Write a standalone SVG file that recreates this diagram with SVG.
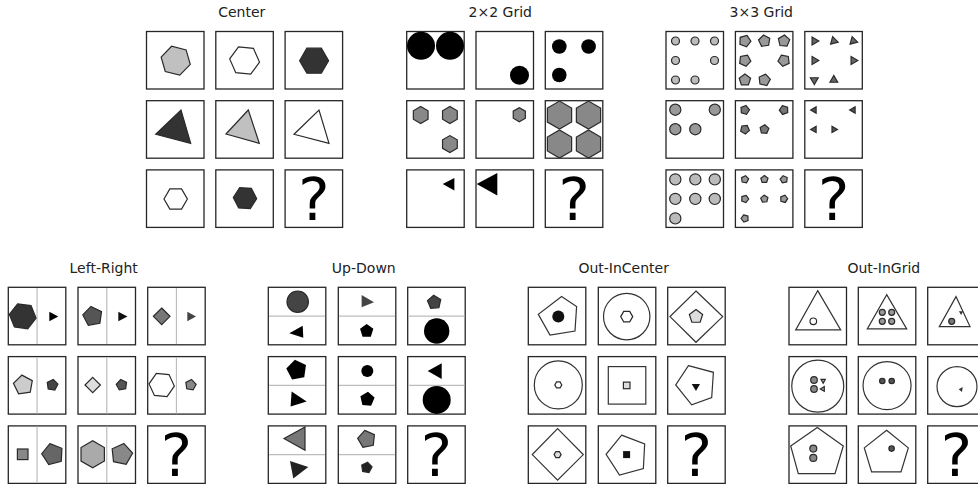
<svg xmlns="http://www.w3.org/2000/svg" xmlns:xlink="http://www.w3.org/1999/xlink" width="978" height="484" viewBox="0 0 978 484">
<style>
.box{fill:#fff;stroke:#262626;stroke-width:1.3}
.s{stroke:#2a2a2a;stroke-width:1.2}
.o{fill:none;stroke:#333;stroke-width:1.2}
.dv{stroke:#bdbdbd;stroke-width:1.2}
.q{font-family:"DejaVu Sans",sans-serif;font-size:59px;text-anchor:middle;fill:#000}
.t{font-family:"DejaVu Sans",sans-serif;font-size:14px;text-anchor:middle;fill:#222}
</style>
<defs>
<path id="hx" vector-effect="non-scaling-stroke" d="M1,0 L0.5,0.866 L-0.5,0.866 L-1,0 L-0.5,-0.866 L0.5,-0.866Z"/>
<path id="pt" vector-effect="non-scaling-stroke" d="M0,-1 L0.951,-0.309 L0.588,0.809 L-0.588,0.809 L-0.951,-0.309Z"/>
<path id="tr" vector-effect="non-scaling-stroke" d="M1,0 L-0.5,0.866 L-0.5,-0.866Z"/>
<rect id="bx" class="box" width="57.5" height="57.5"/>
</defs>
<rect width="978" height="484" fill="#fff"/>

<g id="titles">
<text class="t" x="241.7" y="17.3">Center</text>
<text class="t" x="500.3" y="17.3">2×2 Grid</text>
<text class="t" x="761.3" y="17.3">3×3 Grid</text>
<text class="t" x="103.7" y="273.3">Left-Right</text>
<text class="t" x="363.8" y="273.3">Up-Down</text>
<text class="t" x="623.7" y="273.3">Out-InCenter</text>
<text class="t" x="883.8" y="273.3">Out-InGrid</text>
</g>

<!-- Center -->
<g id="center">
<g id="center-r0c0" transform="translate(146.5,31.5)"><use href="#bx"/><use href="#hx" class="s" fill="#c0c0c0" transform="translate(29.2,29.2) rotate(14) scale(15)"/></g>
<g id="center-r0c1" transform="translate(215.8,31.5)"><use href="#bx"/><use href="#hx" class="s" fill="#fff" transform="translate(28.8,29) rotate(6) scale(15)"/></g>
<g id="center-r0c2" transform="translate(285.1,31.5)"><use href="#bx"/><use href="#hx" class="s" fill="#333" transform="translate(29,29.2) scale(14.5)"/></g>
<g id="center-r1c0" transform="translate(146.5,100.7)"><use href="#bx"/><polygon class="s" fill="#333" points="9.2,33.6 34.5,9.3 44.2,42.6"/></g>
<g id="center-r1c1" transform="translate(215.8,100.7)"><use href="#bx"/><polygon class="s" fill="#c0c0c0" points="10.2,33.3 32.5,9.3 43.5,42.6"/></g>
<g id="center-r1c2" transform="translate(285.1,100.7)"><use href="#bx"/><polygon class="s" fill="#fff" points="8.9,33.6 33.9,9.3 43.9,42.6"/></g>
<g id="center-r2c0" transform="translate(146.5,169.9)"><use href="#bx"/><use href="#hx" class="s" fill="#fff" transform="translate(29.2,29.1) scale(11.7)"/></g>
<g id="center-r2c1" transform="translate(215.8,169.9)"><use href="#bx"/><use href="#hx" class="s" fill="#333" transform="translate(29.2,28.2) rotate(3) scale(11.7)"/></g>
<g id="center-r2c2" transform="translate(285.1,169.9)"><use href="#bx"/><text class="q" x="28.75" y="50">?</text></g>
</g>

<!-- 2x2 Grid -->
<g id="grid2">
<g id="grid2-r0c0" transform="translate(406.7,31.5)"><use href="#bx"/><circle cx="14.3" cy="14.3" r="14" fill="#000"/><circle cx="43.3" cy="14.3" r="14" fill="#000"/></g>
<g id="grid2-r0c1" transform="translate(476,31.5)"><use href="#bx"/><circle cx="43.5" cy="43.8" r="9.5" fill="#000"/></g>
<g id="grid2-r0c2" transform="translate(545.3,31.5)"><use href="#bx"/><circle cx="14" cy="15" r="7.3" fill="#000"/><circle cx="43.3" cy="15" r="7.3" fill="#000"/><circle cx="14" cy="43.5" r="7.3" fill="#000"/></g>
<g id="grid2-r1c0" transform="translate(406.7,100.7)"><use href="#bx"/><use href="#hx" class="s" fill="#888" transform="translate(14,14.3) rotate(30) scale(8.5)"/><use href="#hx" class="s" fill="#888" transform="translate(43.2,14.3) rotate(30) scale(8.5)"/><use href="#hx" class="s" fill="#888" transform="translate(43.2,43.4) rotate(30) scale(8.5)"/></g>
<g id="grid2-r1c1" transform="translate(476,100.7)"><use href="#bx"/><use href="#hx" class="s" fill="#888" transform="translate(43.3,14) rotate(30) scale(7)"/></g>
<g id="grid2-r1c2" transform="translate(545.3,100.7)"><use href="#bx"/><use href="#hx" class="s" fill="#888" transform="translate(14.2,14.4) rotate(30) scale(14)"/><use href="#hx" class="s" fill="#888" transform="translate(43.2,14.4) rotate(30) scale(14)"/><use href="#hx" class="s" fill="#888" transform="translate(14.2,43.3) rotate(30) scale(14)"/><use href="#hx" class="s" fill="#888" transform="translate(43.2,43.3) rotate(30) scale(14)"/></g>
<g id="grid2-r2c0" transform="translate(406.7,169.9)"><use href="#bx"/><polygon fill="#000" points="36,14 47.7,8 47.7,20.7"/></g>
<g id="grid2-r2c1" transform="translate(476,169.9)"><use href="#bx"/><polygon fill="#000" points="0.7,14 21.3,3 21.3,25.7"/></g>
<g id="grid2-r2c2" transform="translate(545.3,169.9)"><use href="#bx"/><text class="q" x="28.75" y="50">?</text></g>
</g>

<!-- 3x3 Grid -->
<g id="grid3">
<g id="grid3-r0c0" transform="translate(666,31.5)"><use href="#bx"/>
<g class="s" fill="#bbb"><circle cx="9.5" cy="9.5" r="4"/><circle cx="29" cy="9.5" r="4"/><circle cx="48.5" cy="9.5" r="4"/><circle cx="9.5" cy="29" r="4"/><circle cx="48.5" cy="29" r="4"/><circle cx="9.5" cy="48.5" r="4"/><circle cx="29" cy="48.5" r="4"/></g></g>
<g id="grid3-r0c1" transform="translate(735.4,31.5)"><use href="#bx"/>
<g class="s" fill="#999"><use href="#pt" transform="translate(9.5,9.5) rotate(20) scale(6)"/><use href="#pt" transform="translate(29,9.5) rotate(-8) scale(6)"/><use href="#pt" transform="translate(48.5,9.5) rotate(5) scale(6)"/><use href="#pt" transform="translate(9.5,29) rotate(25) scale(6)"/><use href="#pt" transform="translate(48.5,29) rotate(-25) scale(6)"/><use href="#pt" transform="translate(9.5,48.5) rotate(0) scale(6)"/><use href="#pt" transform="translate(29,48.5) rotate(12) scale(6)"/></g></g>
<g id="grid3-r0c2" transform="translate(804.8,31.5)"><use href="#bx"/>
<g class="s" fill="#666"><use href="#tr" transform="translate(9.5,9.5) scale(4.5)"/><use href="#tr" transform="translate(29,9.5) rotate(135) scale(4.5)"/><use href="#tr" transform="translate(48.5,9.5) rotate(-105) scale(4.5)"/><use href="#tr" transform="translate(9.5,29) scale(4.5)"/><use href="#tr" transform="translate(48.5,29) scale(4.5)"/><use href="#tr" transform="translate(9.5,48.5) rotate(90) scale(4.5)"/><use href="#tr" transform="translate(29,48.5) rotate(150) scale(4.5)"/></g></g>
<g id="grid3-r1c0" transform="translate(666,100.7)"><use href="#bx"/>
<g class="s" fill="#999"><circle cx="9.3" cy="9" r="5.6"/><circle cx="48.8" cy="9" r="5.6"/><circle cx="9.3" cy="28.5" r="5.6"/><circle cx="29.3" cy="28.5" r="5.6"/></g></g>
<g id="grid3-r1c1" transform="translate(735.4,100.7)"><use href="#bx"/>
<g class="s" fill="#777"><use href="#pt" transform="translate(9.5,9.3) rotate(15) scale(4.6)"/><use href="#pt" transform="translate(48.5,9.3) rotate(-20) scale(4.6)"/><use href="#pt" transform="translate(9.5,28.7) rotate(30) scale(4.6)"/><use href="#pt" transform="translate(29,28.7) rotate(5) scale(4.6)"/></g></g>
<g id="grid3-r1c2" transform="translate(804.8,100.7)"><use href="#bx"/>
<g class="s" fill="#555"><use href="#tr" transform="translate(9.5,9.3) rotate(180) scale(3.6)"/><use href="#tr" transform="translate(48.5,9.3) rotate(180) scale(3.6)"/><use href="#tr" transform="translate(9.5,28.7) rotate(180) scale(3.6)"/><use href="#tr" transform="translate(29,28.7) rotate(120) scale(3.6)"/></g></g>
<g id="grid3-r2c0" transform="translate(666,169.9)"><use href="#bx"/>
<g class="s" fill="#bbb"><circle cx="9.3" cy="9.5" r="5.6"/><circle cx="29.3" cy="9.5" r="5.6"/><circle cx="48.8" cy="9.5" r="5.6"/><circle cx="9.3" cy="29" r="5.6"/><circle cx="29.3" cy="29" r="5.6"/><circle cx="48.8" cy="29" r="5.6"/><circle cx="9.3" cy="48.5" r="5.6"/></g></g>
<g id="grid3-r2c1" transform="translate(735.4,169.9)"><use href="#bx"/>
<g class="s" fill="#999"><use href="#pt" transform="translate(9.5,9.5) rotate(10) scale(3.8)"/><use href="#pt" transform="translate(29,9.5) scale(3.8)"/><use href="#pt" transform="translate(48.5,9.5) rotate(-12) scale(3.8)"/><use href="#pt" transform="translate(9.5,29) rotate(20) scale(3.8)"/><use href="#pt" transform="translate(29,29) rotate(-5) scale(3.8)"/><use href="#pt" transform="translate(48.5,29) rotate(15) scale(3.8)"/><use href="#pt" transform="translate(9.5,48.5) rotate(-20) scale(3.8)"/></g></g>
<g id="grid3-r2c2" transform="translate(804.8,169.9)"><use href="#bx"/><text class="q" x="28.75" y="50">?</text></g>
</g>

<!-- Left-Right -->
<g id="leftright">
<g id="lr-r0c0" transform="translate(8.3,287.3)"><use href="#bx"/><line class="dv" x1="28.75" y1="0.7" x2="28.75" y2="56.8"/><use href="#hx" class="s" fill="#333" transform="translate(14.4,29) rotate(8) scale(13.5)"/><polygon fill="#000" points="41,24.4 50,29.2 41,34"/></g>
<g id="lr-r0c1" transform="translate(78,287.3)"><use href="#bx"/><line class="dv" x1="28.75" y1="0.7" x2="28.75" y2="56.8"/><use href="#pt" class="s" fill="#555" transform="translate(14.7,29) rotate(-10) scale(10)"/><polygon fill="#111" points="40.3,24.4 49.5,29.2 40.3,34"/></g>
<g id="lr-r0c2" transform="translate(147.7,287.3)"><use href="#bx"/><line class="dv" x1="28.75" y1="0.7" x2="28.75" y2="56.8"/><polygon class="s" fill="#777" points="14,20.7 22.3,29 14,37.3 5.7,29"/><polygon fill="#444" points="39.6,24.4 48.3,29.2 39.6,34"/></g>
<g id="lr-r1c0" transform="translate(8.3,356.6)"><use href="#bx"/><line class="dv" x1="28.75" y1="0.7" x2="28.75" y2="56.8"/><use href="#pt" class="s" fill="#ccc" transform="translate(15,28.4) rotate(-8) scale(10)"/><use href="#pt" class="s" fill="#444" transform="translate(44,28.4) rotate(10) scale(5.7)"/></g>
<g id="lr-r1c1" transform="translate(78,356.6)"><use href="#bx"/><line class="dv" x1="28.75" y1="0.7" x2="28.75" y2="56.8"/><polygon class="s" fill="#ddd" points="14.7,20.7 22.4,28.4 14.7,36.1 7,28.4"/><use href="#pt" class="s" fill="#555" transform="translate(43.7,28.4) rotate(-10) scale(5.5)"/></g>
<g id="lr-r1c2" transform="translate(147.7,356.6)"><use href="#bx"/><line class="dv" x1="28.75" y1="0.7" x2="28.75" y2="56.8"/><use href="#hx" class="s" fill="#fff" transform="translate(14,28.4) rotate(5) scale(12.7)"/><use href="#pt" class="s" fill="#888" transform="translate(43,28.4) rotate(10) scale(5.5)"/></g>
<g id="lr-r2c0" transform="translate(8.3,425.9)"><use href="#bx"/><line class="dv" x1="28.75" y1="0.7" x2="28.75" y2="56.8"/><rect class="s" fill="#888" x="9.1" y="23.1" width="10.6" height="10.6"/><use href="#pt" class="s" fill="#666" transform="translate(44.4,28.4) rotate(-15) scale(11)"/></g>
<g id="lr-r2c1" transform="translate(78,425.9)"><use href="#bx"/><line class="dv" x1="28.75" y1="0.7" x2="28.75" y2="56.8"/><use href="#hx" class="s" fill="#aaa" transform="translate(14.7,28.4) rotate(30) scale(13.5)"/><use href="#pt" class="s" fill="#888" transform="translate(43.7,28.4) rotate(12) scale(11)"/></g>
<g id="lr-r2c2" transform="translate(147.7,425.9)"><use href="#bx"/><text class="q" x="28.75" y="50">?</text></g>
</g>

<!-- Up-Down -->
<g id="updown">
<g id="ud-r0c0" transform="translate(268.3,287.3)"><use href="#bx"/><line class="dv" x1="0.7" y1="28.75" x2="56.8" y2="28.75"/><circle class="s" fill="#444" cx="29.4" cy="14.4" r="10.7"/><polygon fill="#000" points="21,46 34.4,38.4 35,50.4"/></g>
<g id="ud-r0c1" transform="translate(338.3,287.3)"><use href="#bx"/><line class="dv" x1="0.7" y1="28.75" x2="56.8" y2="28.75"/><polygon fill="#444" points="23.3,7.7 35.7,15 23.3,20"/><use href="#pt" fill="#000" transform="translate(28.4,43.7) scale(7)"/></g>
<g id="ud-r0c2" transform="translate(407.7,287.3)"><use href="#bx"/><line class="dv" x1="0.7" y1="28.75" x2="56.8" y2="28.75"/><use href="#pt" class="s" fill="#444" transform="translate(26.6,15) rotate(-5) scale(7)"/><circle fill="#000" cx="29" cy="43.7" r="12.7"/></g>
<g id="ud-r1c0" transform="translate(268.3,356.6)"><use href="#bx"/><line class="dv" x1="0.7" y1="28.75" x2="56.8" y2="28.75"/><use href="#pt" fill="#000" transform="translate(28.4,13.4) rotate(-10) scale(10.5)"/><polygon fill="#000" points="23.3,35 38.3,45 22.3,50"/></g>
<g id="ud-r1c1" transform="translate(338.3,356.6)"><use href="#bx"/><line class="dv" x1="0.7" y1="28.75" x2="56.8" y2="28.75"/><circle fill="#000" cx="29" cy="14.4" r="6"/><use href="#pt" fill="#000" transform="translate(29,42.7) rotate(5) scale(7.5)"/></g>
<g id="ud-r1c2" transform="translate(407.7,356.6)"><use href="#bx"/><line class="dv" x1="0.7" y1="28.75" x2="56.8" y2="28.75"/><polygon fill="#000" points="20,14.3 34,6.7 34,22.3"/><circle fill="#000" cx="29" cy="43.3" r="14"/></g>
<g id="ud-r2c0" transform="translate(268.3,425.9)"><use href="#bx"/><line class="dv" x1="0.7" y1="28.75" x2="56.8" y2="28.75"/><polygon class="s" fill="#777" points="15.7,12.7 36.7,1 36.7,24.3"/><polygon fill="#222" points="21.7,35 40,41 25,52.7"/></g>
<g id="ud-r2c1" transform="translate(338.3,425.9)"><use href="#bx"/><line class="dv" x1="0.7" y1="28.75" x2="56.8" y2="28.75"/><use href="#pt" class="s" fill="#777" transform="translate(28.3,13.3) rotate(-12) scale(9)"/><use href="#pt" class="s" fill="#222" transform="translate(28.3,41.7) rotate(10) scale(5.5)"/></g>
<g id="ud-r2c2" transform="translate(407.7,425.9)"><use href="#bx"/><text class="q" x="28.75" y="50">?</text></g>
</g>

<!-- Out-InCenter -->
<g id="outincenter">
<g id="oic-r0c0" transform="translate(528.3,287.3)"><use href="#bx"/><polygon class="o" points="33.3,9.3 48.3,19.3 46.7,43.7 21.7,47.7 10,27"/><circle fill="#111" cx="30" cy="29.3" r="6"/></g>
<g id="oic-r0c1" transform="translate(598.3,287.3)"><use href="#bx"/><circle class="o" cx="28.4" cy="29.3" r="23.2"/><use href="#hx" class="s" fill="#fff" transform="translate(28.4,29.3) scale(6)"/></g>
<g id="oic-r0c2" transform="translate(667.7,287.3)"><use href="#bx"/><polygon class="o" points="28.3,3.7 55,29.3 28.3,55 2.3,29.3"/><use href="#pt" class="s" fill="#ddd" transform="translate(28.3,29.3) scale(7)"/></g>
<g id="oic-r1c0" transform="translate(528.3,356.6)"><use href="#bx"/><circle class="o" cx="30" cy="28.3" r="24"/><use href="#hx" class="s" fill="#fff" transform="translate(30,28.3) scale(3.5)"/></g>
<g id="oic-r1c1" transform="translate(598.3,356.6)"><use href="#bx"/><rect class="o" x="10" y="10" width="37.5" height="37.5"/><rect class="s" fill="#ddd" x="25.1" y="25.5" width="6.6" height="6.6"/></g>
<g id="oic-r1c2" transform="translate(667.7,356.6)"><use href="#bx"/><polygon class="o" points="20.7,9 45.7,15.7 44,41 24,48.3 8,28.3"/><polygon fill="#111" points="24,27.3 32.3,27.3 28.3,34.3"/></g>
<g id="oic-r2c0" transform="translate(528.3,425.9)"><use href="#bx"/><polygon class="o" points="29.3,2.7 55,28.7 29.3,54.3 4,28.7"/><use href="#hx" class="s" fill="#ddd" transform="translate(29.3,28.7) scale(3.5)"/></g>
<g id="oic-r2c1" transform="translate(598.3,425.9)"><use href="#bx"/><use href="#pt" class="o" transform="translate(28.75,29.5) rotate(-15) scale(21)"/><rect fill="#111" x="24.8" y="25.2" width="7" height="7"/></g>
<g id="oic-r2c2" transform="translate(667.7,425.9)"><use href="#bx"/><text class="q" x="28.75" y="50">?</text></g>
</g>

<!-- Out-InGrid -->
<g id="outingrid">
<g id="oig-r0c0" transform="translate(789,287.3)"><use href="#bx"/><polygon class="o" points="28.7,3.3 51.7,42.6 6.7,42.6"/><circle class="s" fill="#fff" cx="24.3" cy="34" r="3.3"/></g>
<g id="oig-r0c1" transform="translate(858.3,287.3)"><use href="#bx"/><polygon class="o" points="28.4,7.3 48.4,41.6 9,41.6"/><g class="s" fill="#999"><circle cx="24" cy="25" r="3"/><circle cx="33.4" cy="25" r="3"/><circle cx="24" cy="34" r="3"/><circle cx="33.4" cy="34" r="3"/></g></g>
<g id="oig-r0c2" transform="translate(927.7,287.3)"><use href="#bx"/><polygon class="o" points="28.3,9.3 42.3,39.3 11.6,39.3"/><circle class="s" fill="#777" cx="24" cy="34" r="3"/><polygon fill="#333" points="31.2,24 35.6,24 33.4,27.8"/></g>
<g id="oig-r1c0" transform="translate(789,356.6)"><use href="#bx"/><circle class="o" cx="28.75" cy="29.5" r="26"/><g class="s" fill="#888"><circle cx="25" cy="23.4" r="3.3"/><circle cx="25" cy="32.4" r="3.3"/></g><g class="s" fill="#aaa"><polygon points="32,22.7 36.3,22.7 34.2,26.7"/><polygon points="31.3,32.4 35.3,30 35.3,34.6"/></g></g>
<g id="oig-r1c1" transform="translate(858.3,356.6)"><use href="#bx"/><circle class="o" cx="28.75" cy="29" r="24"/><g class="s" fill="#555"><circle cx="24" cy="24.4" r="2.7"/><circle cx="33.4" cy="24.4" r="2.7"/></g></g>
<g id="oig-r1c2" transform="translate(927.7,356.6)"><use href="#bx"/><circle class="o" cx="29.3" cy="30" r="20"/><polygon fill="#333" points="31,32.7 35,30.3 34.3,35.3"/></g>
<g id="oig-r2c0" transform="translate(789,425.9)"><use href="#bx"/><polygon class="o" points="28.3,1.7 54.3,20 46,47.7 9.3,47.7 1.7,20"/><g class="s" fill="#888"><circle cx="24.3" cy="22.7" r="3.5"/><circle cx="24.3" cy="32" r="3.5"/></g></g>
<g id="oig-r2c1" transform="translate(858.3,425.9)"><use href="#bx"/><polygon class="o" points="28.3,4.3 50,22 42.7,46 13.3,46 6,22"/><circle class="s" fill="#555" cx="33.3" cy="22.7" r="2.7"/></g>
<g id="oig-r2c2" transform="translate(927.7,425.9)"><use href="#bx"/><text class="q" x="28.75" y="50">?</text></g>
</g>
</svg>
